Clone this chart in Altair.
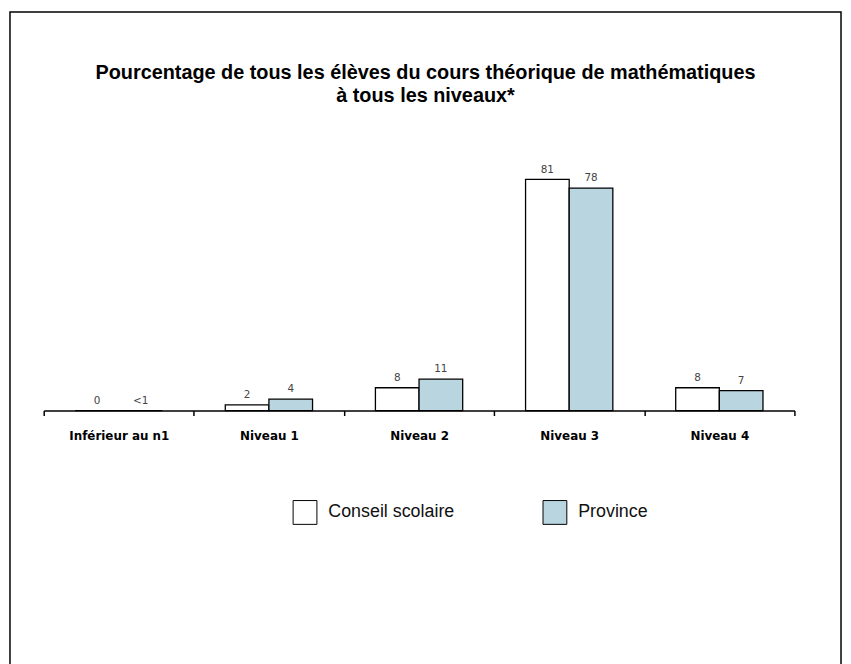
import altair as alt
import pandas as pd

categories = ["Inférieur au n1", "Niveau 1", "Niveau 2", "Niveau 3", "Niveau 4"]
series = ["Conseil scolaire", "Province"]
conseil_values = [0, 2, 8, 81, 8]
conseil_labels = ["0", "2", "8", "81", "8"]
province_values = [0, 4, 11, 78, 7]
province_labels = ["<1", "4", "11", "78", "7"]
title_lines = ["Pourcentage de tous les élèves du cours théorique de mathématiques",
               "à tous les niveaux*"]

rows = []
for c, v, l in zip(categories, conseil_values, conseil_labels):
    rows.append({"cat": c, "series": series[0], "value": v, "label": l})
for c, v, l in zip(categories, province_values, province_labels):
    rows.append({"cat": c, "series": series[1], "value": v, "label": l})
df = pd.DataFrame(rows)

x_enc = alt.X("cat:N", sort=categories,
              scale=alt.Scale(range=[34, 791], paddingInner=0, paddingOuter=0),
              axis=alt.Axis(title=None, orient="bottom", offset=-298, tickBand="extent",
                            labelAngle=0, domainColor="black", domainWidth=1.5,
                            tickColor="black", tickWidth=1.5, tickSize=5,
                            labelFont="DejaVu Sans", labelFontWeight="bold",
                            labelFontSize=12, labelColor="black", labelPadding=15,
                            grid=False))
xo_enc = alt.XOffset("series:N", sort=series,
                     scale=alt.Scale(paddingInner=0, paddingOuter=0.7205))
y_scale = alt.Scale(domain=[0, 100], range=[402, 114.3])

base = alt.Chart(df).encode(x=x_enc, xOffset=xo_enc)

bars = base.mark_bar(stroke="black", strokeWidth=1.3).encode(
    y=alt.Y("value:Q", scale=y_scale, axis=None),
    fill=alt.Fill("series:N", sort=series,
                  scale=alt.Scale(domain=series, range=["white", "#b8d5e0"]),
                  legend=alt.Legend(title=None, orient="none", legendX=285, legendY=492,
                                    direction="horizontal", symbolType="square",
                                    symbolSize=576, symbolStrokeColor="black",
                                    symbolStrokeWidth=1, symbolOpacity=1,
                                    labelFont="Liberation Sans", labelFontSize=18,
                                    labelColor="#111", labelOffset=11,
                                    columnPadding=86, padding=0)),
)

labels = base.mark_text(baseline="bottom", dy=-5, fontSize=10.5, font="DejaVu Sans",
                        color="#444").encode(
    y=alt.Y("value:Q", scale=y_scale, axis=None),
    text="label:N",
)

chart = alt.layer(bars, labels).properties(
    width=838, height=700,
    background="white",
    autosize=alt.AutoSizeParams(type="none"),
    padding={"left": 2, "top": 1, "right": 2, "bottom": 0},
    title=alt.Title(title_lines, font="Liberation Sans", fontSize=20, fontWeight="bold",
                    color="black", anchor="middle", offset=0, dy=95, lineHeight=23),
).configure_view(stroke="black", strokeWidth=1.5)

chart.save("out.html", embed_options={"renderer": "svg", "actions": False})
